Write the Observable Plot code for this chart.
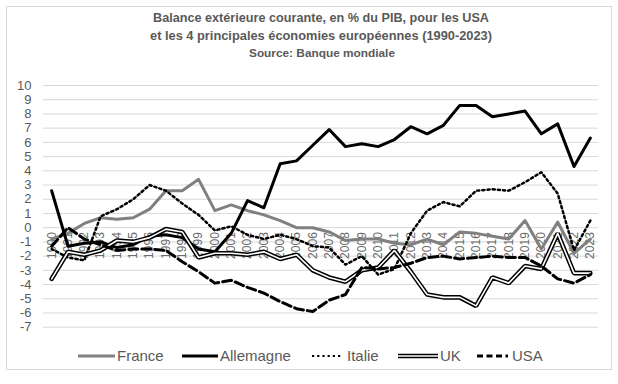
<!DOCTYPE html>
<html><head><meta charset="utf-8">
<script src="https://cdn.jsdelivr.net/npm/d3@7"></script>
<script src="https://cdn.jsdelivr.net/npm/@observablehq/plot@0.6"></script>
<style>
html,body{margin:0;padding:0;background:#fff;}
#wrap{position:relative;width:618px;height:384px;overflow:hidden;font-family:"Liberation Sans",Arial,sans-serif;background:#fff;}
#frame{position:absolute;left:6px;top:6px;width:606px;height:364px;border:1px solid #d9d9d9;box-sizing:border-box;}
.t{position:absolute;white-space:nowrap;color:#595959;font-weight:bold;transform-origin:left center;font-family:"Liberation Sans Narrow","Liberation Sans",Arial,sans-serif;}
#plot{position:absolute;left:0;top:0;}
.lt{position:absolute;white-space:nowrap;color:#595959;font-size:15px;line-height:17px;font-family:"Liberation Sans",Arial,sans-serif;}
.ls{position:absolute;}
</style>
</head><body>
<div id="wrap">
  <div id="frame"></div>
  <div id="plot"></div>
  <div id="titles"></div>
  <div id="legend"></div>
</div>
<script>
const years = [1990,1991,1992,1993,1994,1995,1996,1997,1998,1999,2000,2001,2002,2003,2004,2005,2006,2007,2008,2009,2010,2011,2012,2013,2014,2015,2016,2017,2018,2019,2020,2021,2022,2023];
const france = [-0.8,-0.4,0.3,0.7,0.6,0.7,1.3,2.6,2.6,3.4,1.2,1.6,1.2,0.9,0.5,0.0,0.0,-0.3,-0.9,-0.8,-0.8,-1.1,-1.2,-0.8,-1.2,-0.3,-0.4,-0.6,-0.8,0.5,-1.5,0.4,-1.8,-0.8];
const allemagne = [2.6,-1.3,-1.1,-1.0,-1.4,-1.2,-0.6,-0.5,-0.7,-1.5,-1.7,-0.4,1.9,1.4,4.5,4.7,5.8,6.9,5.7,5.9,5.7,6.2,7.1,6.6,7.2,8.6,8.6,7.8,8.0,8.2,6.6,7.3,4.3,6.3];
const italie = [-1.5,-2.1,-2.3,0.8,1.3,2.0,3.0,2.6,1.7,0.9,-0.2,0.1,-0.5,-0.8,-0.5,-0.8,-1.3,-1.4,-2.6,-2.0,-3.3,-2.9,-0.4,1.2,1.8,1.5,2.6,2.7,2.6,3.2,3.9,2.4,-1.6,0.5];
const uk = [-3.6,-1.7,-1.9,-1.6,-0.9,-1.0,-0.7,-0.1,-0.3,-2.1,-1.8,-1.8,-1.9,-1.7,-2.2,-1.9,-3.0,-3.5,-3.8,-3.0,-2.8,-1.6,-3.1,-4.7,-4.9,-4.9,-5.5,-3.5,-3.9,-2.7,-2.9,-0.4,-3.2,-3.2];
const usa = [-1.3,0.0,-0.8,-1.2,-1.6,-1.5,-1.5,-1.6,-2.4,-3.1,-3.9,-3.7,-4.2,-4.6,-5.2,-5.7,-5.9,-5.1,-4.7,-2.8,-2.9,-2.8,-2.5,-2.1,-2.0,-2.2,-2.1,-2.0,-2.1,-2.1,-2.7,-3.6,-3.9,-3.3];
const yTicks = [-7,-6,-5,-4,-3,-2,-1,0,1,2,3,4,5,6,7,8,9,10];
const seriesNames = ["France","Allemagne","Italie","UK","USA"];
const titleLines = ["Balance extérieure courante, en % du PIB, pour les USA","et les 4 principales économies européennes (1990-2023)","Source: Banque mondiale"];

const mk = arr => years.map((yr, i) => ({year: yr, v: arr[i]}));
const FR = mk(france), DE = mk(allemagne), IT = mk(italie), UKd = mk(uk), US = mk(usa);

const chart = Plot.plot({
  width: 618, height: 384,
  marginTop: 85, marginBottom: 57.3, marginLeft: 43, marginRight: 20,
  style: {fontFamily: "Liberation Sans, Arial, sans-serif", fontSize: "13px", background: "transparent", color: "#595959"},
  x: {domain: [1989.5, 2023.5], axis: null},
  y: {domain: [-7, 10]},
  marks: [
    Plot.ruleY(yTicks, {stroke: "#d9d9d9", strokeWidth: 1}),
    Plot.axisY({ticks: yTicks, tickSize: 0, tickPadding: 12, tickFormat: d => String(d), fontSize: 13, fill: "#595959", label: null}),
    Plot.text(years, {x: d => d, y: 0, text: d => String(d), rotate: -90, textAnchor: "end", dy: 4.5, fill: "#6b6b6b", fontSize: 12}),
    Plot.line(FR, {x: "year", y: "v", stroke: "#808080", strokeWidth: 3, strokeLinejoin: "round"}),
    Plot.line(DE, {x: "year", y: "v", stroke: "#000", strokeWidth: 3, strokeLinejoin: "round"}),
    Plot.line(IT, {x: "year", y: "v", stroke: "#000", strokeWidth: 2.5, strokeDasharray: "2.2,3"}),
    Plot.line(UKd, {x: "year", y: "v", stroke: "#000", strokeWidth: 4.6, strokeLinejoin: "miter"}),
    Plot.line(UKd, {x: "year", y: "v", stroke: "#fff", strokeWidth: 1.6, strokeLinejoin: "miter"}),
    Plot.line(US, {x: "year", y: "v", stroke: "#000", strokeWidth: 3, strokeDasharray: "9,4"})
  ]
});
document.getElementById("plot").appendChild(chart);

// Titles, fitted to measured widths
const titleSpec = [
  {text: titleLines[0], size: 13, cy: 17.3, cx: 321, w: 336},
  {text: titleLines[1], size: 13, cy: 35.5, cx: 321, w: 342},
  {text: titleLines[2], size: 11, cy: 53, cx: 322, w: 146}
];
const tdiv = document.getElementById("titles");
titleSpec.forEach(s => {
  const el = document.createElement("div");
  el.className = "t";
  el.textContent = s.text;
  el.style.fontSize = s.size + "px";
  el.style.lineHeight = (s.size + 4) + "px";
  tdiv.appendChild(el);
  const nat = el.getBoundingClientRect().width;
  const k = s.w / nat;
  el.style.left = (s.cx - s.w / 2) + "px";
  el.style.top = (s.cy - (s.size + 4) / 2) + "px";
  el.style.transform = `scaleX(${k})`;
});

// Legend
const legSpec = [
  {name: seriesNames[0], x0: 78, x1: 115, tx: 117, kind: "fr"},
  {name: seriesNames[1], x0: 182, x1: 218, tx: 220, kind: "de"},
  {name: seriesNames[2], x0: 312, x1: 343, tx: 347, kind: "it"},
  {name: seriesNames[3], x0: 398, x1: 438, tx: 440, kind: "uk"},
  {name: seriesNames[4], x0: 477, x1: 508, tx: 512, kind: "us"}
];
const ly = 355.7;
const ldiv = document.getElementById("legend");
const NS = "http://www.w3.org/2000/svg";
legSpec.forEach(s => {
  const svg = document.createElementNS(NS, "svg");
  const w = s.x1 - s.x0;
  svg.setAttribute("width", w); svg.setAttribute("height", 10);
  svg.setAttribute("class", "ls");
  svg.style.left = s.x0 + "px"; svg.style.top = (ly - 5) + "px";
  const addLine = (stroke, sw, dash) => {
    const l = document.createElementNS(NS, "line");
    l.setAttribute("x1", 0); l.setAttribute("x2", w);
    l.setAttribute("y1", 5); l.setAttribute("y2", 5);
    l.setAttribute("stroke", stroke); l.setAttribute("stroke-width", sw);
    if (dash) l.setAttribute("stroke-dasharray", dash);
    svg.appendChild(l);
  };
  if (s.kind === "fr") addLine("#808080", 3);
  if (s.kind === "de") addLine("#000", 3);
  if (s.kind === "it") addLine("#000", 2.2, "2.2,3");
  if (s.kind === "uk") { addLine("#000", 4.6); addLine("#fff", 1.6); }
  if (s.kind === "us") addLine("#000", 3, "6,3.5");
  ldiv.appendChild(svg);
  const t = document.createElement("div");
  t.className = "lt";
  t.textContent = s.name;
  t.style.left = s.tx + "px";
  t.style.top = (ly - 8.5) + "px";
  ldiv.appendChild(t);
});
</script>
</body></html>
